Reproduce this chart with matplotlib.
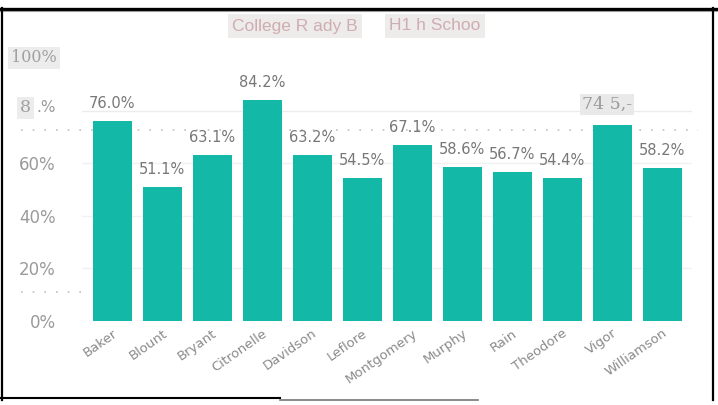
import matplotlib.pyplot as plt
from matplotlib.lines import Line2D

# data
schools = ["Baker", "Blount", "Bryant", "Citronelle", "Davidson", "Leflore",
           "Montgomery", "Murphy", "Rain", "Theodore", "Vigor", "Williamson"]
ready_pct = [76.0, 51.1, 63.1, 84.2, 63.2, 54.5, 67.1, 58.6, 56.7, 54.4, 74.5, 58.2]
bar_labels = ["76.0%", "51.1%", "63.1%", "84.2%", "63.2%", "54.5%",
              "67.1%", "58.6%", "56.7%", "54.4%", "74 5,-", "58.2%"]
ytick_vals = [0, 20, 40, 60]
ytick_text = ["0%", "20%", "40%", "60%"]
title_parts = ["College R ady B", "H1 h Schoo"]

teal = "#13b8a6"
grey = "#8a8a8a"

fig = plt.figure(figsize=(7.18, 4.05), dpi=100)
ax = fig.add_axes([82 / 718, 1 - 321 / 405, 610 / 718, 263 / 405])

x = range(len(schools))
ax.bar(x, ready_pct, width=0.78, color=teal, zorder=2)
ax.set_xlim(-0.6, len(schools) - 0.4)
ax.set_ylim(0, 100)

for s in ax.spines.values():
    s.set_visible(False)

ax.set_yticks(ytick_vals)
ax.set_yticklabels(ytick_text, color="#9a9a9a", fontsize=12)
ax.tick_params(axis="y", length=0, pad=19)
ax.yaxis.grid(True, color="#f1f1f1", lw=1, zorder=0)
ax.axhline(80, color="#ececec", lw=1, zorder=0)

ax.set_xticks(list(x))
ax.set_xticklabels(schools, rotation=35, ha="right", rotation_mode="anchor",
                   color=grey, fontsize=9.5)
ax.tick_params(axis="x", length=0, pad=4)

# value labels
for i, (v, lab) in enumerate(zip(ready_pct, bar_labels)):
    if lab.endswith("%"):
        ax.annotate(lab, (i, v), xytext=(0, 10), textcoords="offset pixels",
                    ha="center", va="bottom", fontsize=10.5, color="#777777")
    else:
        ax.annotate(lab, (i, v), xytext=(-5, 12), textcoords="offset pixels",
                    ha="center", va="bottom", fontsize=12.5, color="#9a9a9a",
                    family="DejaVu Serif",
                    bbox=dict(boxstyle="square,pad=0.12", fc="#e9e9e9", ec="none"))

# faint dotted scan lines
yt = ax.get_yaxis_transform()
ax.plot([-0.1, 1.01], [72.6, 72.6], transform=yt, clip_on=False,
        color="#c9bcbc", lw=1.2, ls=(0, (1, 6)), zorder=1)
ax.plot([-0.1, 0.0], [11, 11], transform=yt, clip_on=False,
        color="#c9bcbc", lw=1.2, ls=(0, (1, 6)), zorder=1)

# overlaid y labels for 100% and 80%
fig.text(11 / 718, 1 - 58 / 405, "100%", family="DejaVu Serif", fontsize=11.5,
         color="#a0a0a0", va="center",
         bbox=dict(boxstyle="square,pad=0.18", fc="#ececec", ec="none"))
fig.text(20 / 718, 1 - 108 / 405, "8", family="DejaVu Serif", fontsize=12.5,
         color="#a0a0a0", va="center",
         bbox=dict(boxstyle="square,pad=0.15", fc="#ececec", ec="none"))
fig.text(36 / 718, 1 - 108 / 405, ".%", fontsize=11, color="#9a9a9a", va="center")

# title pieces
for xc, txt in zip([295, 435], title_parts):
    fig.text(xc / 718, 1 - 26 / 405, txt, ha="center", va="center", fontsize=12.5,
             family="Liberation Sans", color="#cfadb0",
             bbox=dict(boxstyle="square,pad=0.25", fc="#edeceb", ec="none"))

# frame lines
fig.add_artist(Line2D([0, 1], [1 - 8.5 / 405] * 2, color="black", lw=2.4))
fig.add_artist(Line2D([0, 1], [1 - 10.5 / 405] * 2, color="#9a9a9a", lw=0.8))
fig.add_artist(Line2D([1.5 / 718] * 2, [1 - 8 / 405, 1 - 400 / 405], color="black", lw=1.6))
fig.add_artist(Line2D([713 / 718] * 2, [1 - 8 / 405, 1 - 400 / 405], color="black", lw=1.6))
fig.add_artist(Line2D([0, 280 / 718], [1 - 398 / 405] * 2, color="black", lw=1.5))
fig.add_artist(Line2D([280 / 718, 478 / 718], [1 - 399.5 / 405] * 2, color="#777777", lw=1.2))

fig.savefig("out.png", dpi=100)
